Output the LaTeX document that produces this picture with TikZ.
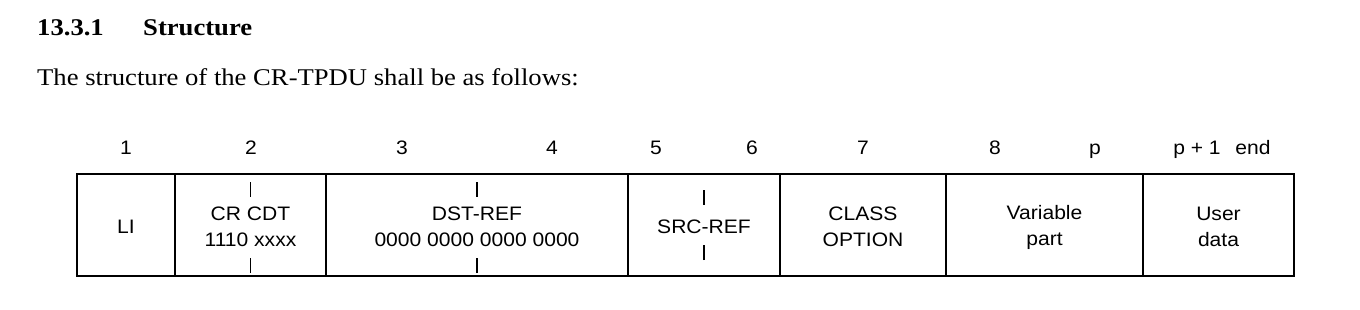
\documentclass[tikz,border=0pt]{standalone}
\usepackage{fontspec}
\setmainfont{Liberation Serif}[FakeStretch=1.11]
\newfontfamily\labfont{Liberation Sans}[FakeStretch=1.08]
\newcommand\fldtop{\rule{0pt}{20pt}}
\newcommand\fldbot{\rule[-4pt]{0pt}{4pt}}
\begin{document}
\begin{tikzpicture}[x=1pt,y=-1pt,
  field/.style={draw=black,line width=2pt,inner sep=0pt,outer sep=0pt,
    minimum height=102pt,align=center,
    font=\labfont\fontsize{19.5}{26}\selectfont},
  octet/.style={anchor=base,inner sep=0pt,font=\labfont\fontsize{19.5}{23}\selectfont},
  tickmark/.style={line width=1.1pt},
  headtxt/.style={anchor=base west,inner sep=0pt,font=\bfseries\fontsize{24}{28}\selectfont},
  bodytxt/.style={anchor=base west,inner sep=0pt,font=\fontsize{24}{28}\selectfont}]
\useasboundingbox (0,0) rectangle (1360,310);
\fill[white] (0,0) rectangle (1360,310);
% heading and text
\node[headtxt] (hnum) at (37,36) {13.3.1};
\node[headtxt] (htitle) at (143,36) {Structure};
\node[bodytxt] (intro) at (37,86) {The structure of the CR-TPDU shall be as follows:};
% fields
\node[field,minimum width=98pt]  (li)   at (126,225)   {\fldtop LI\fldbot};
\node[field,minimum width=151pt] (cr)   at (250.5,225) {\fldtop CR CDT\\1110 xxxx\fldbot};
\node[field,minimum width=302pt] (dst)  at (477,225)   {\fldtop DST-REF\\0000 0000 0000 0000\fldbot};
\node[field,minimum width=152pt] (src)  at (704,225)   {\fldtop SRC-REF\fldbot};
\node[field,minimum width=166pt] (cls)  at (863,225)   {\fldtop CLASS\\OPTION\fldbot};
\node[field,minimum width=197pt] (var)  at (1044.5,225) {\fldtop Variable\\part\fldbot};
\node[field,minimum width=151pt] (usr)  at (1218.5,225) {\fldtop User\\data\fldbot};
% octet numbers
\node[octet] (n1)  at (126,155)  {1};
\node[octet] (n2)  at (251,155)  {2};
\node[octet] (n3)  at (402,155)  {3};
\node[octet] (n4)  at (552,155)  {4};
\node[octet] (n5)  at (656,155)  {5};
\node[octet] (n6)  at (752,155)  {6};
\node[octet] (n7)  at (863,155)  {7};
\node[octet] (n8)  at (995,155)  {8};
\node[octet] (np)  at (1095,155) {p};
\node[octet] (np1) at (1197,155) {p + 1};
\node[octet] (nend) at (1253,155) {end};
% tick marks
\draw[tickmark] ([yshift=-8pt]cr.north) -- ++(0,15);
\draw[tickmark] ([yshift=3pt]cr.south) -- ++(0,-15);
\draw[tickmark] ([yshift=-8pt]dst.north) -- ++(0,15);
\draw[tickmark] ([yshift=3pt]dst.south) -- ++(0,-15);
\draw[tickmark] ([yshift=-16pt]src.north) -- ++(0,15);
\draw[tickmark] ([yshift=16pt]src.south) -- ++(0,-15);
\end{tikzpicture}
\end{document}
